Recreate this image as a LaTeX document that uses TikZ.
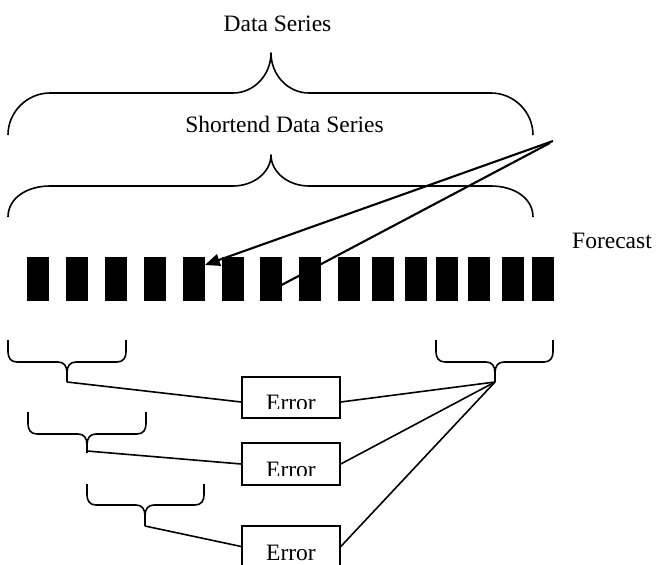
\documentclass[tikz,border=0pt]{standalone}
\usepackage{fontspec}
\setmainfont{Liberation Serif}
\usetikzlibrary{arrows.meta}
\newcommand\bracedown[6]{% L R C T M Tip
  \draw[bracestyle] (#1,#4) -- (#1,{#5-10}) .. controls (#1,{#5-4}) and ({#1+3},#5) .. ({#1+9},#5)
    -- ({#3-9},#5) .. controls ({#3-3},#5) and (#3,{#5+4}) .. (#3,{#5+11}) -- (#3,#6)
    (#3,{#5+11}) .. controls (#3,{#5+4}) and ({#3+3},#5) .. ({#3+9},#5)
    -- ({#2-9},#5) .. controls ({#2-3},#5) and (#2,{#5-4}) .. (#2,{#5-10}) -- (#2,#4);
}
\begin{document}
\begin{tikzpicture}[x=1pt,y=-1pt,
  bracestyle/.style={line width=1.6pt, line join=round},
  lbl/.style={font=\fontsize{23.5}{28}\selectfont, inner sep=0pt},
  barbox/.style={fill=black, draw=none, minimum width=21.5pt, minimum height=44pt, inner sep=0pt, anchor=north west},
  ebox/.style={draw, line width=1.6pt, minimum width=98pt, inner sep=0pt},
  conn/.style={line width=1.6pt},
  arrline/.style={line width=2.1pt},
  arr/.style={arrline, -{Triangle[length=15pt,width=12pt]}}]
\useasboundingbox (0,0) rectangle (657,565);

% labels
\node[lbl, anchor=base] (ds) at (277.5,31) {Data Series};
\node[lbl, anchor=base] (sds) at (284.5,132) {Shortend Data Series};
\node[lbl, anchor=base west] (fc) at (572,248) {Forecast};

% big braces
\draw[bracestyle] (8,135) .. controls (8,112) and (27,93) .. (50,93) -- (233,93)
  .. controls (254,93) and (271,75) .. (271,53)
  .. controls (271,75) and (288,93) .. (309,93) -- (491,93)
  .. controls (514,93) and (533,112) .. (533,135);
\draw[bracestyle] (8,217) .. controls (8,198) and (27,186) .. (50,186) -- (233,186)
  .. controls (254,186) and (271,172) .. (271,155)
  .. controls (271,172) and (288,186) .. (309,186) -- (491,186)
  .. controls (514,186) and (533,198) .. (533,217);

% bars
\foreach \x [count=\i] in {27,66,105,144,183,222,260,299,338,372,405,436,468,502,532}
  \node[barbox] (bar\i) at (\x,257) {};

% forecast arrows
\coordinate (a1s) at (553,141);
\coordinate (a2s) at (550,143);
\draw[arr] (a1s) -- ([yshift=-8pt]bar5.north east);
\draw[arrline] (a2s) -- ([xshift=-6pt,yshift=-31pt]bar7.north east);

% small braces
\bracedown{8}{126}{67}{340}{362}{382}
\bracedown{28}{146}{87}{412}{434}{453}
\bracedown{87}{204}{145}{484}{505}{526}
\bracedown{436}{553}{495}{340}{362}{382}
\coordinate (tA) at (67,382);
\coordinate (tB) at (87,451);
\coordinate (tC) at (145,526);
\coordinate (tD) at (495,382);

% error boxes
\node[ebox, minimum height=41pt] (e1) at (291,397.5) {};
\node[ebox, minimum height=42pt] (e2) at (291,464) {};
\node[ebox, minimum height=41pt] (e3) at (291,546.5) {};
\begin{scope}
  \clip (243,378) rectangle (339,408.5);
  \node[lbl, anchor=base] (t1) at (291,410.5) {Error};
\end{scope}
\begin{scope}
  \clip (243,444) rectangle (339,475.5);
  \node[lbl, anchor=base] (t2) at (291,477.5) {Error};
\end{scope}
\node[lbl, anchor=base] (t3) at (291,560.5) {Error};

% connectors
\draw[conn] (tA) -- ([yshift=-4.5pt]e1.west);
\draw[conn] (tD) -- ([yshift=-4.5pt]e1.east);
\draw[conn] (tB) -- (e2.west);
\draw[conn] (tD) -- (e2.east);
\draw[conn] (tC) -- (e3.west);
\draw[conn] (tD) -- (e3.east);
\end{tikzpicture}
\end{document}
